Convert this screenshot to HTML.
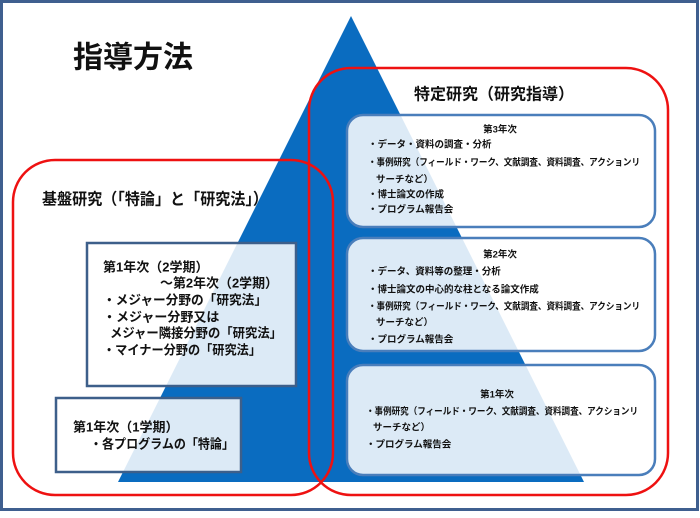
<!DOCTYPE html>
<html><head><meta charset="utf-8"><style>
html,body{margin:0;padding:0;background:#fff;}
svg text{font-family:"Liberation Sans","Noto Sans CJK JP",sans-serif;font-weight:bold;fill:#111;dominant-baseline:central;}
</style></head><body>
<svg width="700" height="513" viewBox="0 0 700 513" xmlns="http://www.w3.org/2000/svg">
<rect x="1.5" y="1.5" width="696" height="508" fill="#fff" stroke="#3f5f8f" stroke-width="3"/>
<polygon points="351,16 118,482 584,482" fill="#0a6cc0"/>
<text x="73" y="58" font-size="30">指導方法</text>

<!-- left boxes -->
<rect x="87" y="243" width="209" height="143" fill="#fff" fill-opacity="0.86" stroke="#3d5f8a" stroke-width="2.5"/>
<rect x="56" y="398" width="185" height="74" fill="#fff" fill-opacity="0.86" stroke="#3d5f8a" stroke-width="2.5"/>
<g font-size="13">
<text x="103" y="267">第1年次（2学期）</text>
<text x="160" y="283" textLength="118" lengthAdjust="spacingAndGlyphs">～第2年次（2学期）</text>
<text x="103" y="300" textLength="164" lengthAdjust="spacingAndGlyphs">・メジャー分野の「研究法」</text>
<text x="103" y="317">・メジャー分野又は</text>
<text x="110" y="333" textLength="172" lengthAdjust="spacingAndGlyphs">メジャー隣接分野の「研究法」</text>
<text x="103" y="350" textLength="158" lengthAdjust="spacingAndGlyphs">・マイナー分野の「研究法」</text>
<text x="73" y="427">第1年次（1学期）</text>
<text x="90" y="444" textLength="144" lengthAdjust="spacingAndGlyphs">・各プログラムの「特論」</text>
</g>
<text x="42" y="200" font-size="16" textLength="226" lengthAdjust="spacingAndGlyphs">基盤研究（「特論」と「研究法」）</text>

<!-- right boxes -->
<g fill="#fff" fill-opacity="0.86" stroke="#4a7ebb" stroke-width="2.5">
<rect x="347" y="115" width="308" height="112" rx="16"/>
<rect x="347" y="238" width="308" height="113" rx="16"/>
<rect x="347" y="365" width="308" height="110" rx="16"/>
</g>
<text x="414" y="95" font-size="16" textLength="160" lengthAdjust="spacingAndGlyphs">特定研究（研究指導）</text>
<g font-size="9.5">
<text x="500" y="130" text-anchor="middle">第3年次</text>
<text x="368" y="145">・データ・資料の調査・分析</text>
<text x="368" y="163" textLength="272" lengthAdjust="spacingAndGlyphs">・事例研究（フィールド・ワーク、文献調査、資料調査、アクションリ</text>
<text x="376" y="180">サーチなど）</text>
<text x="368" y="195">・博士論文の作成</text>
<text x="368" y="210">・プログラム報告会</text>

<text x="500" y="255" text-anchor="middle">第2年次</text>
<text x="368" y="272">・データ、資料等の整理・分析</text>
<text x="368" y="290">・博士論文の中心的な柱となる論文作成</text>
<text x="368" y="307" textLength="272" lengthAdjust="spacingAndGlyphs">・事例研究（フィールド・ワーク、文献調査、資料調査、アクションリ</text>
<text x="376" y="323">サーチなど）</text>
<text x="368" y="340">・プログラム報告会</text>

<text x="497" y="395" text-anchor="middle">第1年次</text>
<text x="366" y="412" textLength="272" lengthAdjust="spacingAndGlyphs">・事例研究（フィールド・ワーク、文献調査、資料調査、アクションリ</text>
<text x="373" y="428">サーチなど）</text>
<text x="366" y="445">・プログラム報告会</text>
</g>

<!-- red rounded boxes -->
<rect x="13" y="160" width="320" height="335" rx="42" fill="none" stroke="#ee1111" stroke-width="2.5"/>
<rect x="309" y="68" width="359" height="427" rx="42" fill="none" stroke="#ee1111" stroke-width="2.5"/>
</svg>
</body></html>
